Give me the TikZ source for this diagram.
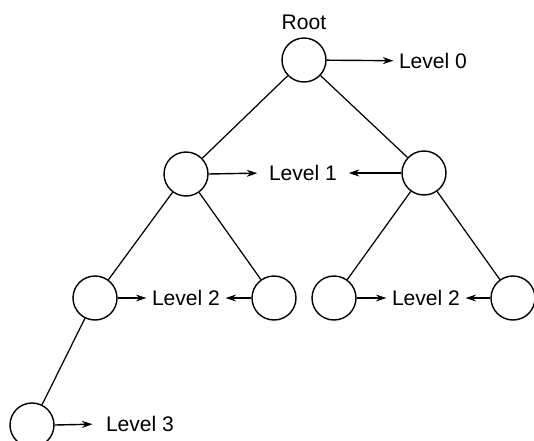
\documentclass[tikz,border=0pt]{standalone}
\usepackage{fontspec}
\setmainfont{Liberation Sans}
\usetikzlibrary{arrows.meta}

\begin{document}
\begin{tikzpicture}[x=0.02cm, y=-0.02cm,
    vertex/.style={draw, circle, line width=0.8pt, minimum size=0.88cm, inner sep=0pt},
    lvl/.style={font=\fontsize{12}{14}\selectfont, inner sep=3pt},
    edge/.style={line width=0.7pt},
    pointer/.style={line width=0.8pt, -{Stealth[length=6pt, width=4pt]}}]
    \useasboundingbox (0,0) rectangle (534,440);

    % Nodes of the tree
    \node[vertex] (root) at (304,60) {};
    \node[lvl] at (304,22) {Root};
    \node[vertex] (a) at (186,174) {};
    \node[vertex] (b) at (424,173) {};
    \node[vertex] (aa) at (95,298) {};
    \node[vertex] (ab) at (274,298) {};
    \node[vertex] (ba) at (334,298) {};
    \node[vertex] (bb) at (513,298) {};
    \node[vertex] (aaa) at (32,425) {};

    % Branches
    \draw[edge] (root) -- (a);
    \draw[edge] (root) -- (b);
    \draw[edge] (a) -- (aa);
    \draw[edge] (a) -- (ab);
    \draw[edge] (b) -- (ba);
    \draw[edge] (b) -- (bb);
    \draw[edge] (aa) -- (aaa);

    % Level labels
    \node[lvl] (lv0) at (433,61) {Level 0};
    \node[lvl] (lv1) at (303,173) {Level 1};
    \node[lvl] (lv2a) at (186,298) {Level 2};
    \node[lvl] (lv2b) at (426,298) {Level 2};
    \node[lvl] (lv3) at (140,424) {Level 3};

    % Pointers to the labels
    \draw[pointer] (root) -- (lv0);
    \draw[pointer, shorten >=3.5pt] (a.east) -- (lv1.west);
    \draw[pointer, shorten >=3.5pt] (b.west) -- (lv1.east);
    \draw[pointer] (aa) -- (lv2a);
    \draw[pointer] (ab) -- (lv2a);
    \draw[pointer] (ba) -- (lv2b);
    \draw[pointer] (bb) -- (lv2b);
    \draw[pointer, shorten >=4.5pt] (aaa.east) -- (lv3.west);
\end{tikzpicture}
\end{document}
